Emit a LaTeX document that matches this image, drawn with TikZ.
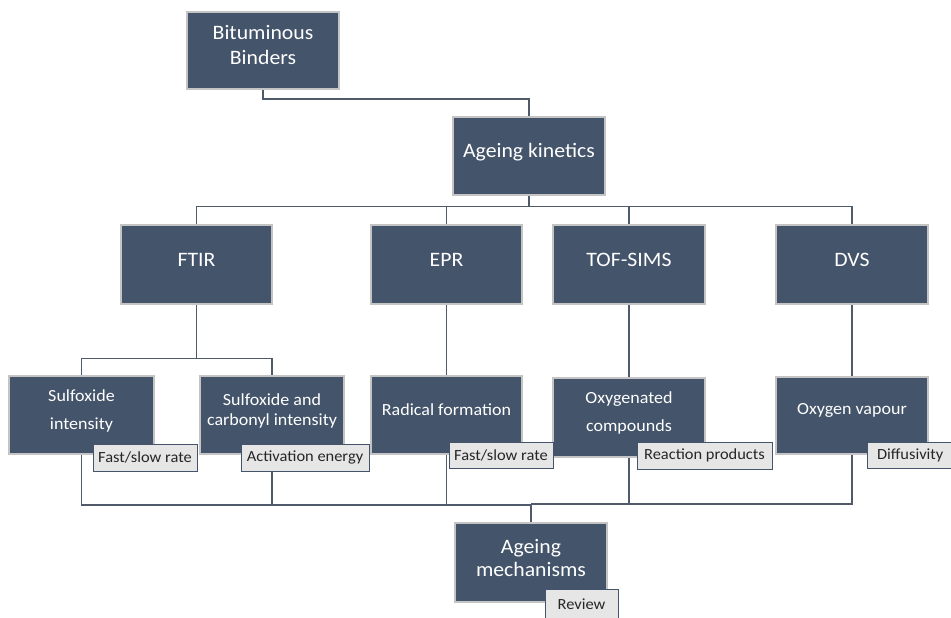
\documentclass[tikz,border=0pt]{standalone}
\usepackage{fontspec}
\setmainfont{Carlito}[FakeStretch=1.06]
\definecolor{slate}{HTML}{44546A}
\definecolor{boxedge}{HTML}{C4C4C4}
\definecolor{linec}{HTML}{4F5B6B}
\definecolor{tagfill}{HTML}{E6E6E6}
\tikzset{
  box/.style={rectangle, fill=slate, draw=boxedge, line width=1.2pt, inner sep=0pt},
  btext/.style={text=white, align=center, inner sep=0pt},
  big/.style={font=\fontsize{20.5}{25}\selectfont},
  mid/.style={font=\fontsize{17}{28}\selectfont},
  tag/.style={rectangle, fill=tagfill, draw=slate, line width=0.9pt, inner sep=0pt, text=black!85, font=\fontsize{15.5}{18}\selectfont},
  conn/.style={draw=linec, line width=1.4pt},
}
\begin{document}
\begin{tikzpicture}[x=1pt,y=-1pt]
\useasboundingbox (0,0) rectangle (951,618);
% boxes
\node[box, minimum width=152pt, minimum height=77pt] (bb) at (263,50.5) {};
\node[box, minimum width=152pt, minimum height=78pt] (ak) at (529,156) {};
\node[box, minimum width=151pt, minimum height=79pt] (ftir) at (196.5,264.5) {};
\node[box, minimum width=151pt, minimum height=79pt] (epr) at (446.5,264.5) {};
\node[box, minimum width=152pt, minimum height=79pt] (tof) at (629,264.5) {};
\node[box, minimum width=152pt, minimum height=79pt] (dvs) at (852,264.5) {};
\node[box, minimum width=145pt, minimum height=78pt] (si) at (81.5,415) {};
\node[box, minimum width=144pt, minimum height=78pt] (sc) at (272,415) {};
\node[box, minimum width=151pt, minimum height=78pt] (rf) at (446.5,415) {};
\node[box, minimum width=152pt, minimum height=79pt] (oc) at (629,417.5) {};
\node[box, minimum width=152pt, minimum height=77pt] (ov) at (852,415.5) {};
\node[box, minimum width=152pt, minimum height=79pt] (am) at (531,562.5) {};
% connectors
\begin{scope}[on background layer/.style={}]
\end{scope}
\coordinate (busL) at (531,505);
\coordinate (busR) at (531,504);
\path[conn] (bb.south) -- ++(0,9.5) -| (ak.north);
\path[conn] (ak.south) -- ++(0,11) -| (ftir.north);
\path[conn] (ak.south) -- ++(0,11) -| (epr.north);
\path[conn] (ak.south) -- ++(0,11) -| (tof.north);
\path[conn] (ak.south) -- ++(0,11) -| (dvs.north);
\path[conn] (ftir.south) -- ++(0,54) -| (si.north);
\path[conn] (ftir.south) -- ++(0,54) -| (sc.north);
\path[conn] (epr.south) -- (rf.north);
\path[conn] (tof.south) -- (oc.north);
\path[conn] (dvs.south) -- (ov.north);
\path[conn] (si.south) |- (busL);
\path[conn] (sc.south) |- (busL);
\path[conn] (rf.south) |- (busL);
\path[conn] (busL) -- (am.north);
\path[conn] (oc.south) |- (busR);
\path[conn] (ov.south) |- (busR);
% redraw boxes over connector ends
\foreach \n in {bb,ak,ftir,epr,tof,dvs,si,sc,rf,oc,ov,am}{
  \draw[draw=boxedge, line width=1.2pt] (\n.north west) rectangle (\n.south east);
}
% box texts
\node[btext, big] (bbt) at ([yshift=5pt]bb.center) {Bituminous\\Binders};
\node[btext, big] (akt) at ([yshift=4.3pt]ak.center) {Ageing kinetics};
\node[btext, big] (ftirt) at ([yshift=4.5pt]ftir.center) {FTIR};
\node[btext, big] (eprt) at ([yshift=4.5pt]epr.center) {EPR};
\node[btext, big] (toft) at ([yshift=4.5pt]tof.center) {TOF-SIMS};
\node[btext, big] (dvst) at ([yshift=4.5pt]dvs.center) {DVS};
\node[btext, mid] (sit) at ([yshift=4.5pt]si.center) {Sulfoxide\\intensity};
\node[btext, font=\fontsize{17}{20.5}\selectfont] (sct) at ([yshift=4.2pt]sc.center) {Sulfoxide and\\carbonyl intensity};
\node[btext, mid] (rft) at ([yshift=5.5pt]rf.center) {Radical formation};
\node[btext, mid] (oct) at ([yshift=5pt]oc.center) {Oxygenated\\compounds};
\node[btext, mid] (ovt) at ([yshift=5pt]ov.center) {Oxygen vapour};
\node[btext, font=\fontsize{20.5}{23}\selectfont] (amt) at ([yshift=4.5pt]am.center) {Ageing\\mechanisms};
% tags
\node[tag, minimum width=104pt, minimum height=27pt] (t1) at (145,457.5) {Fast/slow rate};
\node[tag, minimum width=128pt, minimum height=27pt] (t2) at (305,457.5) {Activation energy};
\node[tag, minimum width=104pt, minimum height=26pt] (t3) at (501,455) {Fast/slow rate};
\node[tag, minimum width=135pt, minimum height=27pt] (t4) at (704.5,455.5) {Reaction products};
\node[tag, minimum width=88pt, minimum height=26pt, text width=82pt, align=left] (t5) at (911,455) {\hspace*{7pt}Diffusivity};
\node[tag, minimum width=73pt, minimum height=30pt] (t6) at (581.5,604) {Review};
\end{tikzpicture}
\end{document}
